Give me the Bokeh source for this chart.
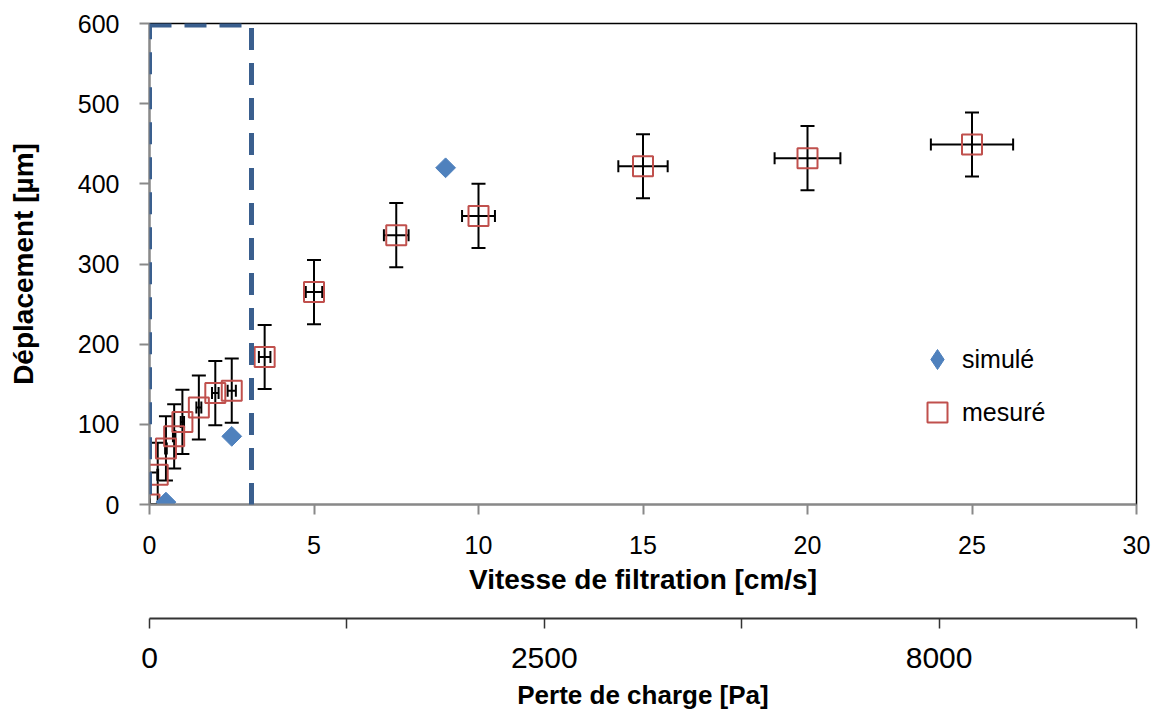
from bokeh.plotting import figure
from bokeh.models import (ColumnDataSource, Whisker, TeeHead, LinearAxis, Range1d,
                          FixedTicker, Legend, LegendItem, Title, BoxAnnotation)
from bokeh.embed import file_html
from bokeh.resources import INLINE
import numpy as np

# ---- data ----
mes_x = [0, 0.25, 0.5, 0.75, 1.0, 1.5, 2.0, 2.5, 3.5, 5, 7.5, 10, 15, 20, 25]
mes_y = [0, 37, 70, 85, 103, 121, 139, 142, 184, 265, 336, 360, 422, 432, 449]
mes_yerr = 40          # µm
mes_xerr_rel = 0.05    # 5 % of velocity

sim_x = [0.5, 2.5, 9.0]
sim_y = [3, 85, 420]

zone_x = [0.0, 3.1]     # dashed zoom region (velocity)
zone_y = [-4, 598]      # dashed zoom region (displacement)

x_ticks = [0, 5, 10, 15, 20, 25, 30]
y_ticks = [0, 100, 200, 300, 400, 500, 600]

pa_ticks = [0, 1, 2, 3, 4, 5]
pa_labels = ["0", "", "2500", "", "8000", ""]

X_RANGE = (0, 30)
Y_RANGE = (0, 600)

# ---- derived ----
mx = np.array(mes_x, dtype=float)
my = np.array(mes_y, dtype=float)
src_m = ColumnDataSource(dict(
    x=mx, y=my,
    ylo=np.maximum(my - mes_yerr, Y_RANGE[0]), yhi=my + mes_yerr,
    xlo=mx * (1 - mes_xerr_rel), xhi=mx * (1 + mes_xerr_rel),
))
src_s = ColumnDataSource(dict(x=sim_x, y=sim_y))

FONT = "Liberation Sans"
AXIS_GRAY = "#898989"
BLUE = "#4F81BD"
RED = "#C0504D"

p = figure(width=1158, height=712,
           x_range=Range1d(*X_RANGE), y_range=Range1d(*Y_RANGE),
           output_backend="svg", toolbar_location=None,
           min_border_left=149, min_border_right=22,
           min_border_top=23, min_border_bottom=207)
p.background_fill_color = "white"
p.border_fill_color = "white"
p.outline_line_color = "black"
p.outline_line_width = 1.5
p.xgrid.visible = False
p.ygrid.visible = False

# dashed zoom rectangle
p.add_layout(BoxAnnotation(left=zone_x[0], right=zone_x[1], bottom=zone_y[0], top=zone_y[1],
                           fill_alpha=0, line_color="#3A5F8E", line_alpha=1.0, line_width=5,
                           line_dash="22 13"))

# error bars
p.add_layout(Whisker(source=src_m, base="x", lower="ylo", upper="yhi", dimension="height",
                     line_color="black", line_width=2,
                     lower_head=TeeHead(size=14, line_color="black", line_width=2),
                     upper_head=TeeHead(size=14, line_color="black", line_width=2)))
p.add_layout(Whisker(source=src_m, base="y", lower="xlo", upper="xhi", dimension="width",
                     line_color="black", line_width=2,
                     lower_head=TeeHead(size=12, line_color="black", line_width=2),
                     upper_head=TeeHead(size=12, line_color="black", line_width=2)))

# measured squares
r_mes = p.scatter("x", "y", source=src_m, marker="square", size=20,
                  line_color=RED, line_width=2, fill_alpha=0)
# simulated diamonds (rotated squares)
p.scatter("x", "y", source=src_s, marker="square", size=14, angle=np.pi / 4,
          line_color=BLUE, fill_color=BLUE)
# legend proxy for simulated
r_sim_leg = p.scatter("x", "y", source=src_s, marker="diamond", size=0,
                      line_color=BLUE, fill_color=BLUE)

legend = Legend(items=[LegendItem(label="simulé", renderers=[r_sim_leg]),
                       LegendItem(label="mesuré", renderers=[r_mes])],
                location=(763, 67), glyph_width=50, glyph_height=50,
                label_standoff=0, spacing=3, padding=0, margin=0,
                label_text_font=FONT, label_text_font_size="25px",
                label_text_color="black",
                background_fill_alpha=0, border_line_alpha=0)
p.add_layout(legend)

# main axes
xa = p.xaxis[0]
xa.ticker = FixedTicker(ticks=x_ticks)
xa.axis_label = "Vitesse de filtration [cm/s]"
ya = p.yaxis[0]
ya.ticker = FixedTicker(ticks=y_ticks)
ya.axis_label = "Déplacement [µm]"
for ax in (xa, ya):
    ax.axis_line_color = AXIS_GRAY
    ax.axis_line_width = 2
    ax.major_tick_line_color = AXIS_GRAY
    ax.major_tick_line_width = 2
    ax.major_tick_out = 10
    ax.major_tick_in = 0
    ax.minor_tick_line_color = None
    ax.major_label_text_font = FONT
    ax.major_label_text_font_size = "25px"
    ax.major_label_text_color = "black"
    ax.axis_label_text_font = FONT
    ax.axis_label_text_font_size = "28px"
    ax.axis_label_text_font_style = "bold"
    ax.axis_label_text_color = "black"
xa.major_label_standoff = 21
xa.axis_label_standoff = 7
ya.major_label_standoff = 20
ya.axis_label_standoff = 36

# spacer between the two bottom axes
p.add_layout(Title(text=" ", text_font_size="10px", standoff=8), "below")

# secondary axis (pressure drop)
p.extra_x_ranges = {"pa": Range1d(pa_ticks[0], pa_ticks[-1])}
ax2 = LinearAxis(x_range_name="pa", ticker=FixedTicker(ticks=pa_ticks),
                 major_label_overrides={t: l for t, l in zip(pa_ticks, pa_labels)},
                 axis_label="Perte de charge [Pa]")
ax2.axis_line_color = "#333333"
ax2.axis_line_width = 2
ax2.major_tick_line_color = "#333333"
ax2.major_tick_line_width = 1.5
ax2.major_tick_out = 10
ax2.major_tick_in = 0
ax2.minor_tick_line_color = None
ax2.major_label_text_font = FONT
ax2.major_label_text_font_size = "30px"
ax2.major_label_text_color = "black"
ax2.major_label_standoff = 19
ax2.axis_label_text_font = FONT
ax2.axis_label_text_font_size = "26px"
ax2.axis_label_text_font_style = "bold"
ax2.axis_label_text_color = "black"
ax2.axis_label_standoff = 9
p.add_layout(ax2, "below")

open("out.html", "w").write(file_html(p, INLINE))
